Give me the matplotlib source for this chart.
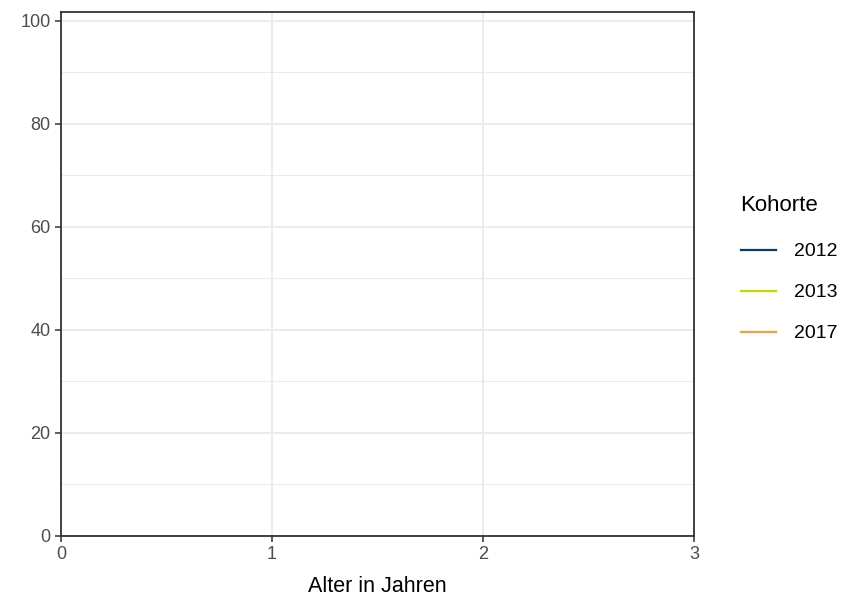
import matplotlib.pyplot as plt
from matplotlib.lines import Line2D

plt.rcParams["font.family"] = ["Liberation Sans", "DejaVu Sans"]

# Kohorten – in der Vorlage sind keine Datenpunkte zu sehen
cohorts = ["2012", "2013", "2017"]
colors = ["#0b3d6b", "#c5d800", "#f2a23c"]
ages = {"2012": [], "2013": [], "2017": []}
values = {"2012": [], "2013": [], "2017": []}

x_ticks = [0, 1, 2, 3]
y_ticks = [0, 20, 40, 60, 80, 100]
y_minor = [10, 30, 50, 70, 90]

fig = plt.figure(figsize=(8.47, 5.99), dpi=100)
W, H = 847, 599
ax = fig.add_axes([61 / W, (H - 536) / H, (694 - 61) / W, (536 - 12) / H])

for c, col in zip(cohorts, colors):
    ax.plot(ages[c], values[c], color=col, lw=1.5, label=c)

ax.set_xlim(0, 3)
ax.set_ylim(0, 101.7)
ax.set_xticks(x_ticks)
ax.set_yticks(y_ticks)
ax.set_yticks(y_minor, minor=True)

ax.grid(True, which="major", color="#ebebeb", lw=1.4)
ax.grid(True, which="minor", axis="y", color="#ebebeb", lw=0.8)
ax.set_axisbelow(True)

for s in ax.spines.values():
    s.set_color("#333333")
    s.set_linewidth(1.3)

ax.tick_params(which="major", length=4, width=1.1, color="#333333",
               labelsize=13, labelcolor="#4d4d4d", pad=3.5)
ax.tick_params(which="minor", length=0)
ax.set_xlabel("Alter in Jahren", fontsize=15.5, labelpad=9)

handles = [Line2D([], [], color=col, lw=1.6) for col in colors]
leg = fig.legend(handles, cohorts, title="Kohorte", loc="upper left",
                 bbox_to_anchor=(723 / W, 1 - 178 / H), frameon=False,
                 fontsize=14, title_fontsize=16, handlelength=1.8,
                 labelspacing=1.2, handletextpad=0.95)
leg._legend_box.align = "left"
leg._legend_box.sep = 19

fig.savefig("out.png", dpi=100)
